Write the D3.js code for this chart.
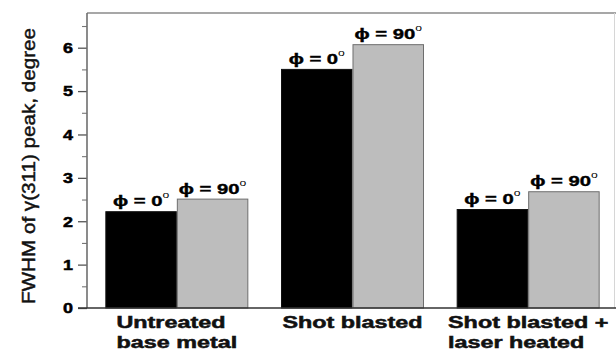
<!DOCTYPE html>
<html>
<head>
<meta charset="utf-8">
<script src="https://cdn.jsdelivr.net/npm/d3@7"></script>
<style>
  html, body { margin: 0; padding: 0; background: #fff; }
  svg { display: block; font-family: "Liberation Sans", Arial, sans-serif; }
</style>
</head>
<body>
<svg id="chart" width="616" height="353"></svg>
<script>
// Sample groups (each label split over lines)
const categories = [
  ["Untreated", "base metal"],
  ["Shot blasted"],
  ["Shot blasted +", "laser heated"]
];
// FWHM of the γ(311) peak, degree, measured at ϕ = 0° and ϕ = 90°
const phi0 = [2.22, 5.50, 2.27];
const phi90 = [2.51, 6.07, 2.68];
const seriesLabels = ["0", "90"];
const yTicks = [0, 1, 2, 3, 4, 5, 6];
const yMinorTicks = [0.5, 1.5, 2.5, 3.5, 4.5, 5.5, 6.5];
const yTitle = "FWHM of γ(311) peak, degree";

const svg = d3.select("#chart");
const plotLeft = 87, plotRight = 616, plotTop = 13, plotBottom = 308;

const x = d3.scaleBand()
  .domain(d3.range(categories.length))
  .range([89, 616])
  .paddingInner(0.186)
  .paddingOuter(0.093);
const sub = d3.scaleBand()
  .domain([0, 1])
  .range([0, x.bandwidth()]);
const y = d3.scaleLinear().domain([0, 6.8]).range([plotBottom, plotTop]);

const rows = categories.map((c, i) => ({ i, values: [phi0[i], phi90[i]] }));
const fills = ["#000000", "#bdbdbd"];
const strokes = ["#111111", "#6e6e6e"];

// frame (top and right edges)
svg.append("line").attr("x1", plotLeft).attr("x2", plotRight).attr("y1", plotTop).attr("y2", plotTop)
  .attr("stroke", "#8a8a8a").attr("stroke-width", 1.6);
svg.append("line").attr("x1", 614.5).attr("x2", 614.5).attr("y1", plotTop).attr("y2", plotBottom)
  .attr("stroke", "#d6d6d6").attr("stroke-width", 1);

// bars
const groups = svg.selectAll("g.grp").data(rows).join("g")
  .attr("class", "grp")
  .attr("transform", d => `translate(${x(d.i)},0)`);

groups.selectAll("rect").data(d => d.values.map((v, k) => ({ v, k }))).join("rect")
  .attr("x", d => sub(d.k) + 0.5)
  .attr("y", d => y(d.v))
  .attr("width", sub.bandwidth() - 1)
  .attr("height", d => y(0) - y(d.v))
  .attr("fill", d => fills[d.k])
  .attr("stroke", d => strokes[d.k])
  .attr("stroke-width", 1);

// ϕ labels above each bar
groups.each(function (row) {
  const g = d3.select(this);
  row.values.forEach((v, k) => {
    const cx = sub(k) + sub.bandwidth() / 2;
    const lg = g.append("g")
      .attr("transform", `translate(${cx},${y(v) - 5.5}) scale(1.35,1)`);
    const t = lg.append("text")
      .attr("text-anchor", "middle")
      .attr("font-size", 15)
      .attr("font-weight", "bold")
      .attr("fill", "#000")
      .attr("stroke", "#000")
      .attr("stroke-width", 0.4);
    t.append("tspan").text(`ϕ = ${seriesLabels[k]}`);
    t.append("tspan").attr("font-size", 9).attr("font-weight", "normal")
      .attr("stroke-width", 0).attr("dy", -8).text("o");
  });
});

// y axis
const yAxis = d3.axisLeft(y).tickValues(yTicks).tickSize(9).tickFormat(d3.format("d"));
const ya = svg.append("g").attr("transform", `translate(${plotLeft},0)`).call(yAxis);
ya.select(".domain").remove();
ya.selectAll(".tick line").attr("stroke", "#555").attr("stroke-width", 1.3);
ya.selectAll(".tick text")
  .attr("x", -14)
  .attr("font-size", 15)
  .attr("font-weight", "bold")
  .attr("font-family", "Liberation Sans, Arial, sans-serif")
  .attr("fill", "#000")
  .attr("stroke", "#000")
  .attr("stroke-width", 0.5)
  .attr("textLength", 10)
  .attr("lengthAdjust", "spacingAndGlyphs");

const yMinor = d3.axisLeft(y).tickValues(yMinorTicks).tickSize(5).tickFormat("");
const ym = svg.append("g").attr("transform", `translate(${plotLeft},0)`).call(yMinor);
ym.select(".domain").remove();
ym.selectAll(".tick line").attr("stroke", "#777").attr("stroke-width", 1.1);

svg.append("line").attr("x1", plotLeft).attr("x2", plotLeft).attr("y1", plotTop).attr("y2", plotBottom)
  .attr("stroke", "#6f6f6f").attr("stroke-width", 1.6);

// x axis baseline
const xAxis = d3.axisBottom(x).tickSize(0).tickFormat("");
const xa = svg.append("g").attr("transform", `translate(0,${plotBottom})`).call(xAxis);
xa.select(".domain").attr("d", `M${plotLeft - 9},0H${plotRight}`)
  .attr("stroke", "#333").attr("stroke-width", 1.6);

// category labels: block centred on the group, lines left-aligned
const stretch = 1.46;
categories.forEach((lines, i) => {
  const g = svg.append("g");
  const texts = lines.map((s, j) => g.append("text")
    .attr("font-size", 16)
    .attr("font-weight", "bold")
    .attr("fill", "#111")
    .attr("stroke", "#111")
    .attr("stroke-width", 0.5)
    .attr("transform", `translate(0,${328 + j * 20}) scale(${stretch},1)`)
    .text(s));
  const w = d3.max(texts, t => t.node().getComputedTextLength()) * stretch;
  const x0 = x(i) + x.bandwidth() / 2 - w / 2;
  texts.forEach((t, j) => t.attr("transform", `translate(${x0},${328 + j * 20}) scale(${stretch},1)`));
});

// y axis title
svg.append("text")
  .attr("transform", "translate(35,166) rotate(-90)")
  .attr("text-anchor", "middle")
  .attr("font-size", 19)
  .attr("fill", "#111")
  .attr("stroke", "#111")
  .attr("stroke-width", 0.45)
  .attr("textLength", 276)
  .attr("lengthAdjust", "spacingAndGlyphs")
  .text(yTitle);
</script>
</body>
</html>
